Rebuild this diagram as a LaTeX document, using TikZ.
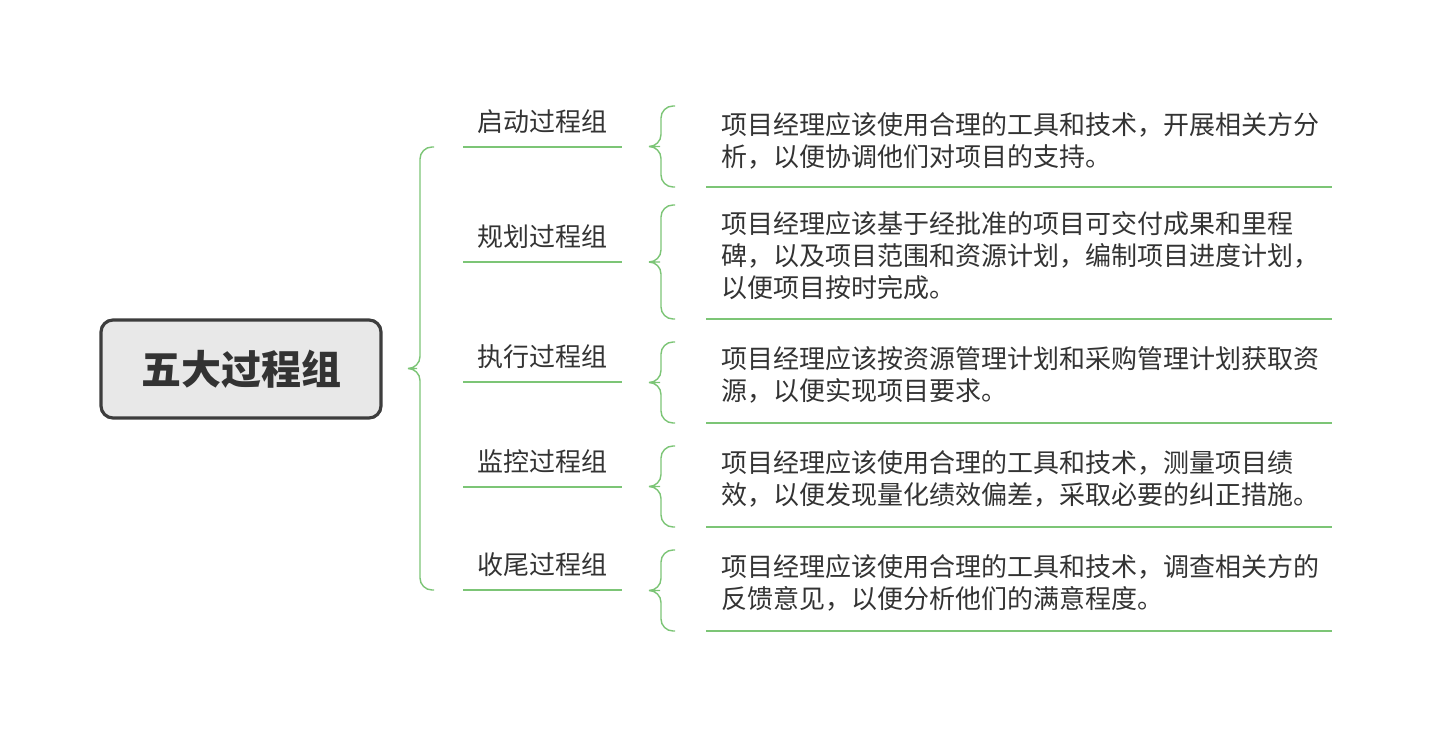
\documentclass[tikz,border=0pt]{standalone}
\usepackage{fontspec}
\setmainfont{Noto Sans CJK SC}
\usetikzlibrary{positioning}
\definecolor{leaf}{HTML}{7CC576}
\definecolor{ink}{HTML}{333333}
\newcommand\curlybrace[4]{% x-tip, x-body, top, bottom
  \draw[leaf, line width=0.7pt, rounded corners=6pt]
    (#2+14,#3) -- (#2,#3) -- (#2,{(#3+#4)/2}) -- (#1,{(#3+#4)/2})
    -- (#2,{(#3+#4)/2}) -- (#2,#4) -- (#2+14,#4);}
\begin{document}
\begin{tikzpicture}[x=0.5pt, y=-0.5pt,
  rootbox/.style={draw=ink!95, line width=1.6pt, fill=black!9, rounded corners=6pt,
    minimum width=140pt, minimum height=49pt, font=\bfseries\fontsize{20}{24}\selectfont, text=ink},
  group/.style={font=\fontsize{13}{16}\selectfont, text=ink},
  desc/.style={anchor=north west, inner sep=0pt, align=left, font=\fontsize{13}{16}\selectfont, text=ink}]
  \useasboundingbox (0,0) rectangle (1432,732);
  \node[rootbox] (root) at (241,369) {五大过程组};
  % big brace
  \curlybrace{405}{420}{147}{590}
  % groups
  \node[group] (g1) at (542,122) {启动过程组};
  \node[group] (g2) at (542,237) {规划过程组};
  \node[group] (g3) at (542,357) {执行过程组};
  \node[group] (g4) at (542,462) {监控过程组};
  \node[group] (g5) at (542,565) {收尾过程组};
  \foreach \y in {147,262,382,487,590}
    \draw[leaf, line width=0.7pt] (463,\y) -- (622,\y);
  % small braces
  \curlybrace{648}{661}{106}{187}
  \curlybrace{648}{661}{205}{319}
  \curlybrace{648}{661}{342}{423}
  \curlybrace{648}{661}{446}{527}
  \curlybrace{648}{661}{550}{631}
  % descriptions
  \node[desc] (d1) at (721,112) {项目经理应该使用合理的工具和技术，开展相关方分\\析，以便协调他们对项目的支持。};
  \node[desc] (d2) at (721,211) {项目经理应该基于经批准的项目可交付成果和里程\\碑，以及项目范围和资源计划，编制项目进度计划，\\以便项目按时完成。};
  \node[desc] (d3) at (721,346) {项目经理应该按资源管理计划和采购管理计划获取资\\源，以便实现项目要求。};
  \node[desc] (d4) at (721,450) {项目经理应该使用合理的工具和技术，测量项目绩\\效，以便发现量化绩效偏差，采取必要的纠正措施。};
  \node[desc] (d5) at (721,554) {项目经理应该使用合理的工具和技术，调查相关方的\\反馈意见，以便分析他们的满意程度。};
  \foreach \y in {187,319,423,527,631}
    \draw[leaf, line width=0.7pt] (706,\y) -- (1332,\y);
\end{tikzpicture}
\end{document}
